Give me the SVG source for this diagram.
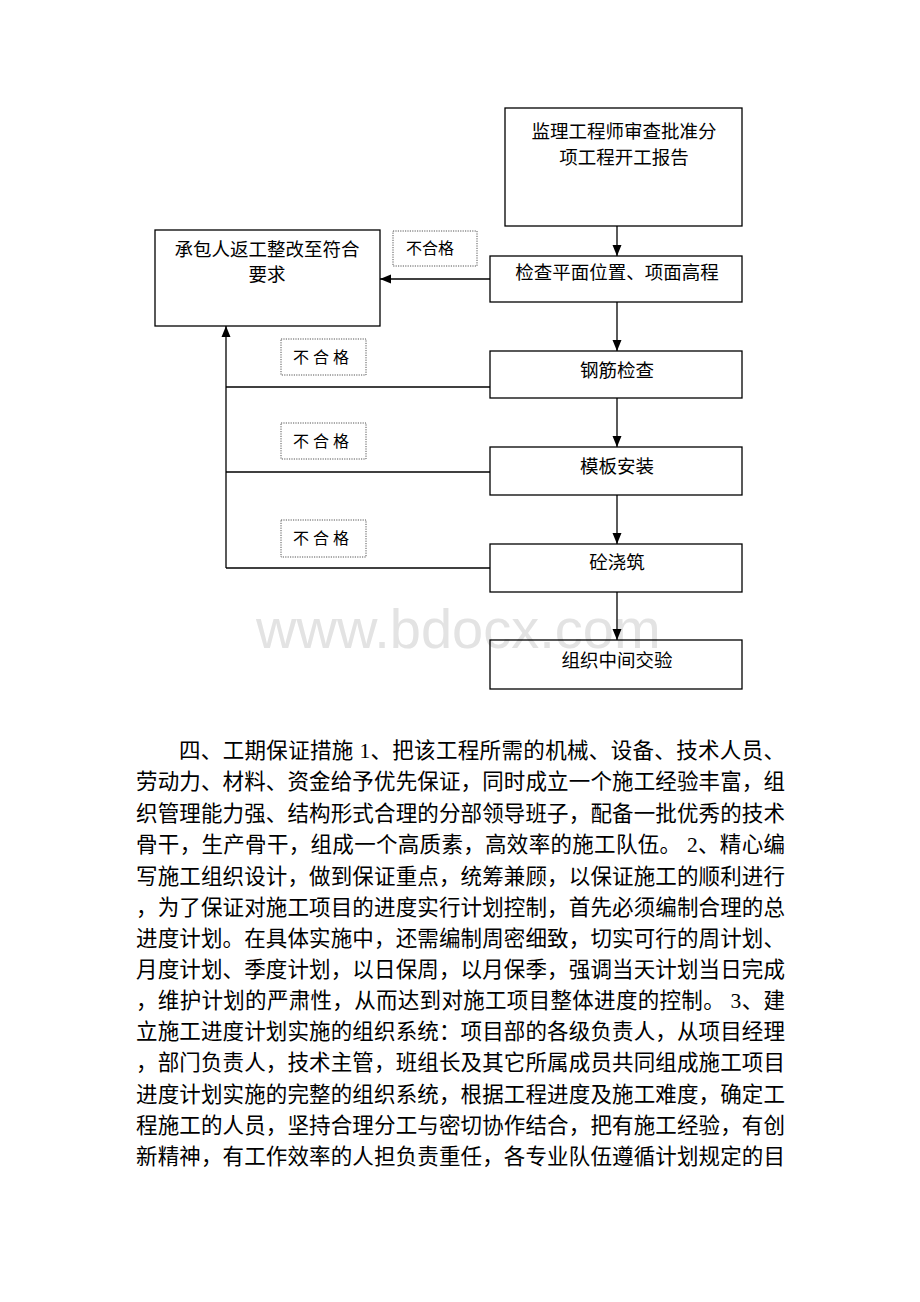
<svg xmlns="http://www.w3.org/2000/svg" width="920" height="1302" viewBox="0 0 920 1302">
<style>
.box{fill:none;stroke:#000;stroke-width:1.3}
.dot{fill:none;stroke:#555;stroke-width:1;stroke-dasharray:1.2,1.2}
.t{font-family:"Liberation Serif","Noto Sans CJK SC",serif;font-size:18.5px;fill:#000;text-anchor:middle}
.s{font-family:"Liberation Serif","Noto Sans CJK SC",serif;font-size:16px;fill:#000;text-anchor:middle}
.p{font-family:"Liberation Serif","Noto Sans CJK SC",serif;font-size:21.5px;fill:#000}
.ln{fill:none;stroke:#000;stroke-width:1.3}
.wm{font-family:"Liberation Sans",Arial,sans-serif;font-size:56px;fill:#e3e3e3}
</style>
<defs>
<marker id="ah" markerUnits="userSpaceOnUse" markerWidth="11" markerHeight="10" refX="11" refY="5" orient="auto">
<path d="M0,0.5 L11,5 L0,9.5 z" fill="#000"/>
</marker>
</defs>
<rect width="920" height="1302" fill="#fff"/>
<text class="wm" x="256" y="648">www.bdocx.com</text>
<g id="connectors">
<line class="ln" x1="617" y1="226" x2="617" y2="256" marker-end="url(#ah)"/>
<line class="ln" x1="490" y1="279" x2="380" y2="279" marker-end="url(#ah)"/>
<line class="ln" x1="617" y1="302" x2="617" y2="351" marker-end="url(#ah)"/>
<line class="ln" x1="617" y1="398" x2="617" y2="447" marker-end="url(#ah)"/>
<line class="ln" x1="617" y1="495" x2="617" y2="544" marker-end="url(#ah)"/>
<line class="ln" x1="617" y1="592" x2="617" y2="640" marker-end="url(#ah)"/>
<polyline class="ln" points="490,387 226,387"/>
<polyline class="ln" points="490,472 226,472"/>
<polyline class="ln" points="490,568 226,568"/>
<line class="ln" x1="226" y1="568" x2="226" y2="326" marker-end="url(#ah)"/>
</g>
<g id="n_approve">
<rect class="box" x="505" y="108" width="237" height="118"/>
<text class="t" x="624" y="138">监理工程师审查批准分</text>
<text class="t" x="624" y="164">项工程开工报告</text>
</g>
<g id="n_rework">
<rect class="box" x="155" y="230" width="225" height="96"/>
<text class="t" x="267" y="256">承包人返工整改至符合</text>
<text class="t" x="267" y="281">要求</text>
</g>
<g id="lbl1">
<rect class="dot" x="393" y="231" width="84" height="35"/>
<text class="s" x="430" y="254">不合格</text>
</g>
<g id="n_check">
<rect class="box" x="490" y="256" width="252" height="46"/>
<text class="t" x="617" y="279">检查平面位置、项面高程</text>
</g>
<g id="lbl2">
<rect class="dot" x="281" y="339" width="85" height="36"/>
<text class="s" x="323" y="363" letter-spacing="4">不合格</text>
</g>
<g id="n_rebar">
<rect class="box" x="490" y="351" width="252" height="47"/>
<text class="t" x="617" y="377">钢筋检查</text>
</g>
<g id="lbl3">
<rect class="dot" x="281" y="423" width="85" height="36"/>
<text class="s" x="323" y="447" letter-spacing="4">不合格</text>
</g>
<g id="n_form">
<rect class="box" x="490" y="447" width="252" height="48"/>
<text class="t" x="617" y="473">模板安装</text>
</g>
<g id="lbl4">
<rect class="dot" x="281" y="520" width="85" height="37"/>
<text class="s" x="323" y="544" letter-spacing="4">不合格</text>
</g>
<g id="n_pour">
<rect class="box" x="490" y="544" width="252" height="48"/>
<text class="t" x="617" y="569">砼浇筑</text>
</g>
<g id="n_accept">
<rect class="box" x="490" y="640" width="252" height="49"/>
<text class="t" x="617" y="667">组织中间交验</text>
</g>
<g id="paragraph">
<text class="p" x="179" y="758" textLength="606" lengthAdjust="spacing">四、工期保证措施 1、把该工程所需的机械、设备、技术人员、</text>
<text class="p" x="136" y="789" textLength="649" lengthAdjust="spacing">劳动力、材料、资金给予优先保证，同时成立一个施工经验丰富，组</text>
<text class="p" x="136" y="821" textLength="649" lengthAdjust="spacing">织管理能力强、结构形式合理的分部领导班子，配备一批优秀的技术</text>
<text class="p" x="136" y="852" textLength="649" lengthAdjust="spacing">骨干，生产骨干，组成一个高质素，高效率的施工队伍。 2、精心编</text>
<text class="p" x="136" y="884" textLength="649" lengthAdjust="spacing">写施工组织设计，做到保证重点，统筹兼顾，以保证施工的顺利进行</text>
<text class="p" x="136" y="915" textLength="649" lengthAdjust="spacing">，为了保证对施工项目的进度实行计划控制，首先必须编制合理的总</text>
<text class="p" x="136" y="946" textLength="649" lengthAdjust="spacing">进度计划。在具体实施中，还需编制周密细致，切实可行的周计划、</text>
<text class="p" x="136" y="977" textLength="649" lengthAdjust="spacing">月度计划、季度计划，以日保周，以月保季，强调当天计划当日完成</text>
<text class="p" x="136" y="1008" textLength="649" lengthAdjust="spacing">，维护计划的严肃性，从而达到对施工项目整体进度的控制。 3、建</text>
<text class="p" x="136" y="1039" textLength="649" lengthAdjust="spacing">立施工进度计划实施的组织系统：项目部的各级负责人，从项目经理</text>
<text class="p" x="136" y="1070" textLength="649" lengthAdjust="spacing">，部门负责人，技术主管，班组长及其它所属成员共同组成施工项目</text>
<text class="p" x="136" y="1102" textLength="649" lengthAdjust="spacing">进度计划实施的完整的组织系统，根据工程进度及施工难度，确定工</text>
<text class="p" x="136" y="1133" textLength="649" lengthAdjust="spacing">程施工的人员，坚持合理分工与密切协作结合，把有施工经验，有创</text>
<text class="p" x="136" y="1164" textLength="649" lengthAdjust="spacing">新精神，有工作效率的人担负责重任，各专业队伍遵循计划规定的目</text>
</g>
</svg>
